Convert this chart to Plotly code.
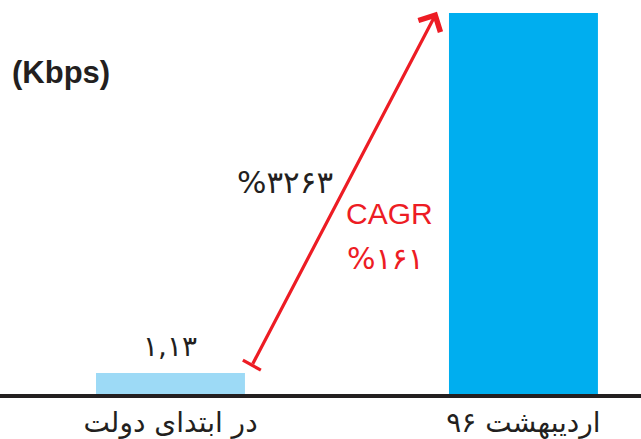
import plotly.graph_objects as go

categories = ["در ابتدای دولت", "اردیبهشت ۹۶"]
values = [1.13, 20.6]
value_labels = ["۱,۱۳", ""]
bar_colors = ["#9DDAF6", "#00AEEF"]
unit_label = "(Kbps)"
growth_label = "%۳۲۶۳"
cagr_title = "CAGR"
cagr_label = "%۱۶۱"

DARK = "#231F20"
RED = "#ED1C24"
FA_FONT = "DejaVu Sans"

fig = go.Figure()
fig.add_trace(go.Bar(
    x=list(range(len(categories))), y=values,
    marker=dict(color=bar_colors, line=dict(width=0)),
    width=0.422, hoverinfo="skip",
))

# value labels above bars
for i, (v, lab) in enumerate(zip(values, value_labels)):
    if lab:
        fig.add_annotation(x=i, y=v, text=lab, showarrow=False, yanchor="bottom",
                           yshift=8, font=dict(family=FA_FONT, size=28, color=DARK))

# growth arrow from bar 1 to bar 2
tail = (0.231, 1.56)
head = (0.755, 20.66)
fig.add_annotation(x=head[0], y=head[1], ax=tail[0], ay=tail[1], axref="x", ayref="y",
                   xref="x", yref="y", text="", showarrow=True, arrowhead=4,
                   arrowsize=1.5, arrowwidth=3.2, arrowcolor=RED, standoff=0)
fig.add_shape(type="line", x0=0.205, y0=1.83, x1=0.256, y1=1.29, xref="x", yref="y",
              line=dict(color=RED, width=3.2))

fig.add_annotation(x=0.0156, y=0.866, xref="paper", yref="paper", xanchor="left",
                   text="<b>" + unit_label + "</b>", showarrow=False,
                   font=dict(family="Liberation Sans", size=31, color=DARK))
fig.add_annotation(x=0.445, y=0.538, xref="paper", yref="paper", text=growth_label,
                   showarrow=False, font=dict(family=FA_FONT, size=31, color=DARK))
fig.add_annotation(x=0.608, y=0.457, xref="paper", yref="paper", text=cagr_title,
                   showarrow=False, font=dict(family="Liberation Sans", size=30, color=RED))
fig.add_annotation(x=0.601, y=0.343, xref="paper", yref="paper", text=cagr_label,
                   showarrow=False, font=dict(family=FA_FONT, size=30, color=RED))

fig.update_layout(
    width=641, height=439,
    margin=dict(l=0, r=0, t=0, b=43),
    paper_bgcolor="white", plot_bgcolor="white",
    showlegend=False,
    xaxis=dict(range=[-0.483, 1.333], tickvals=list(range(len(categories))),
               ticktext=categories, showgrid=False, zeroline=False,
               showline=True, linewidth=4, linecolor=DARK, ticks="",
               tickfont=dict(family=FA_FONT, size=28, color=DARK), fixedrange=True),
    yaxis=dict(range=[0, 21.3], visible=False, fixedrange=True),
)

fig.write_html("out.html", config={"displayModeBar": False})
